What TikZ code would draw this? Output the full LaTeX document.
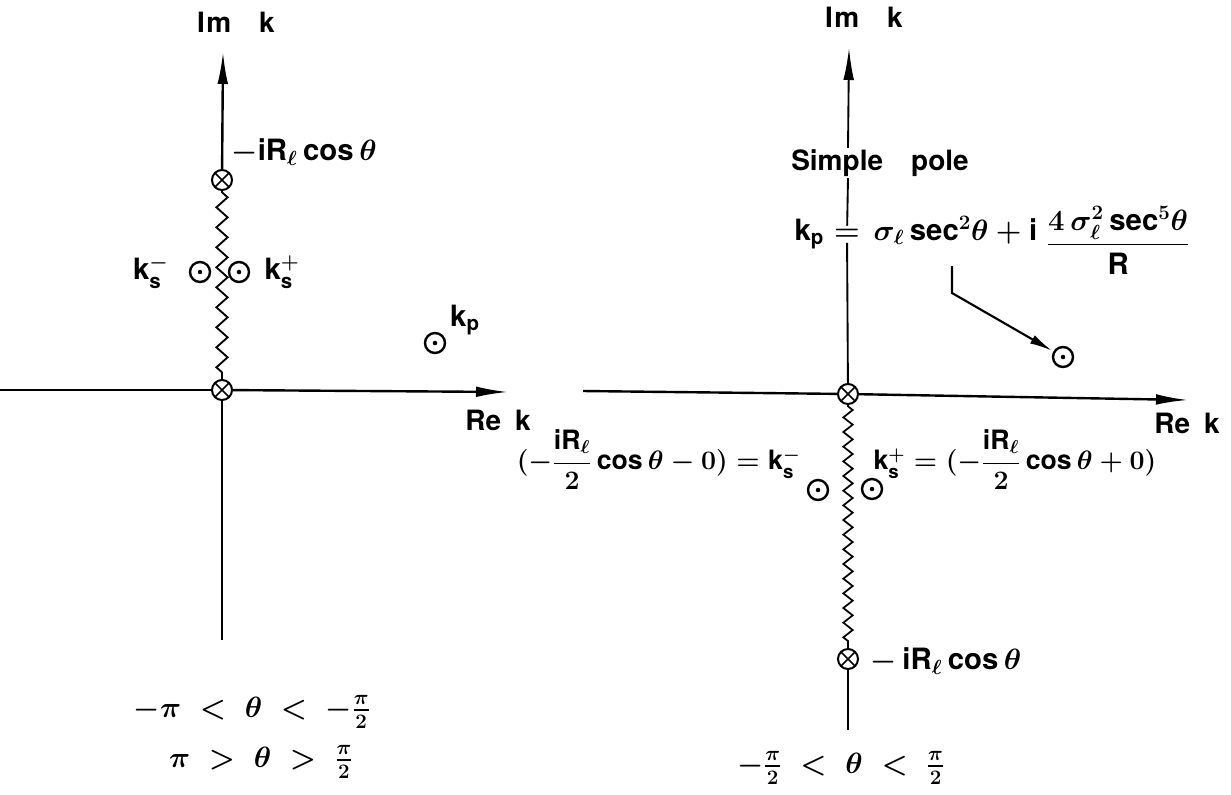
\documentclass[tikz,border=0pt]{standalone}
\usepackage{fix-cm}
\usepackage{amsmath}
\usepackage{fontspec}
\setmainfont{TeX Gyre Heros}
\usetikzlibrary{arrows.meta,decorations.pathmorphing}
\begin{document}
\begin{tikzpicture}[x=0.75pt,y=-0.75pt,
  every node/.style={font=\fontsize{21}{25}\selectfont\bfseries\boldmath, inner sep=1pt},
  mth/.style={font=\fontsize{22}{26}\selectfont\bfseries\boldmath},
  mths/.style={font=\fontsize{20}{24}\selectfont\bfseries\boldmath},
  axis/.style={line width=1.8pt},
  axarrow/.style={axis, -{Latex[length=24pt,width=8pt]}},
  xcirc/.style={circle, draw, line width=1.5pt, minimum size=15pt, inner sep=0pt, fill=white,
    path picture={\draw[line width=1.1pt] (path picture bounding box.south west) -- (path picture bounding box.north east)
      (path picture bounding box.north west) -- (path picture bounding box.south east);}},
  odot/.style={circle, draw, line width=1.8pt, minimum size=15pt, inner sep=0pt,
    path picture={\fill (path picture bounding box.center) circle (1.7pt);}},
  zigL/.style={line width=1.4pt, decorate, decoration={zigzag, segment length=15pt, amplitude=4.2pt, pre length=1pt, post length=1pt}},
  zigR/.style={line width=1.3pt, decorate, decoration={zigzag, segment length=11pt, amplitude=3.5pt, pre length=1pt, post length=1pt}},
  pointer/.style={line width=1.6pt, -{Latex[length=17pt,width=7pt]}, shorten >=1pt}
]
\useasboundingbox (0,0) rectangle (1231,794);

% ---------------- left diagram ----------------
\coordinate (lvt) at (223,52);
\coordinate (lvb) at (222,640);
\coordinate (lhl) at (0,390);
\coordinate (lhr) at (508,392);
\node[xcirc] (oa) at (222,390) {};
\node[xcirc] (xa) at (222,180) {};
\draw[axis] (lvb) -- (oa);
\draw[axarrow] (xa) -- (lvt);
\draw[axis] (lhl) -- (oa);
\draw[axarrow] (oa) -- (lhr);
\draw[zigL] (xa) -- (oa);
\node[odot] (ksmL) at (200,272) {};
\node[odot] (kspL) at (239,272) {};
\node[odot] (kpL) at (435,343) {};

\node (imL) at (236,22) {I\kern1pt m\quad k};
\node (reL) at (498,420) {Re\enspace k};
\node[mth, anchor=west] (labxa) at (230,152) {$-\mathrm{iR}_{\ell}\,\mathrm{cos}\,\theta$};
\node[mth, anchor=east] (labksmL) at (170,272) {$\mathrm{k}_{\mathrm{s}}^{-}$};
\node[mth, anchor=west] (labkspL) at (263,272) {$\mathrm{k}_{\mathrm{s}}^{+}$};
\node[mth] (labkpL) at (465,320) {$\mathrm{k}_{\mathrm{p}}$};
\node[mth] (condL1) at (252,712) {$-\pi\;<\;\theta\;<\;-\frac{\pi}{2}$};
\node[mth] (condL2) at (261,762) {$\pi\;>\;\theta\;>\;\frac{\pi}{2}$};

% ---------------- right diagram ----------------
\coordinate (rvt) at (849,48);
\coordinate (rvb) at (848,730);
\coordinate (rhl) at (583,391);
\coordinate (rhr) at (1188,400);
\node[xcirc] (ob) at (848,394) {};
\node[xcirc] (xb) at (848,659) {};
\node (simple) at (880,163) {Simple\quad pole};
\node[mth, anchor=base, fill=white, inner sep=2pt] (fmleq) at (847,240) {$=$};
\node[mth, anchor=base east] (fmlk) at (fmleq.base west) {$\mathrm{k}_{\mathrm{p}}\,$};
\node[mth, anchor=base west] (fmlr) at (fmleq.base east) {$\;\sigma_{\ell}\,\mathrm{sec}^{2}\theta + \mathrm{i}\;\raisebox{-9pt}{$\dfrac{4\,\sigma_{\ell}^{2}\,\mathrm{sec}^{5}\theta}{\mathrm{R}}$}$};
\draw[axis, line width=1.4pt] (ob) -- (fmleq);
\draw[axis, line width=1.4pt] (fmleq) -- (ob |- simple.south);
\draw[axarrow, line width=1.4pt] (ob |- simple.north) -- (rvt);
\draw[axis] (rhl) -- (ob);
\draw[axarrow] (ob) -- (rhr);
\draw[zigR] (ob) -- (xb);
\draw[axis, line width=1.4pt] (xb) -- (rvb);
\node[odot] (ksmR) at (818,490) {};
\node[odot] (kspR) at (872,489) {};
\node[odot] (kpR) at (1063,357) {};

\coordinate (ps) at (952,266);
\coordinate (pb) at (952,293);
\draw[pointer] (ps) -- (pb) -- (kpR);

\node (imR) at (864,17) {I\kern1pt m\quad k};
\node (reR) at (1187,423) {Re\enspace k};
\node[mths, anchor=east] (labksmR) at (802,460) {$(-\dfrac{\mathrm{iR}_{\ell}}{2}\,\mathrm{cos}\,\theta - 0) = \mathrm{k}_{\mathrm{s}}^{-}$};
\node[mths, anchor=west] (labkspR) at (872,460) {$\mathrm{k}_{\mathrm{s}}^{+} = (-\dfrac{\mathrm{iR}_{\ell}}{2}\,\mathrm{cos}\,\theta + 0)$};
\node[mth, anchor=west] (labxb) at (869,661) {$-\,\mathrm{iR}_{\ell}\,\mathrm{cos}\,\theta$};
\node[mth] (condR) at (841,768) {$-\frac{\pi}{2}\;<\;\theta\;<\;\frac{\pi}{2}$};
\end{tikzpicture}
\end{document}
